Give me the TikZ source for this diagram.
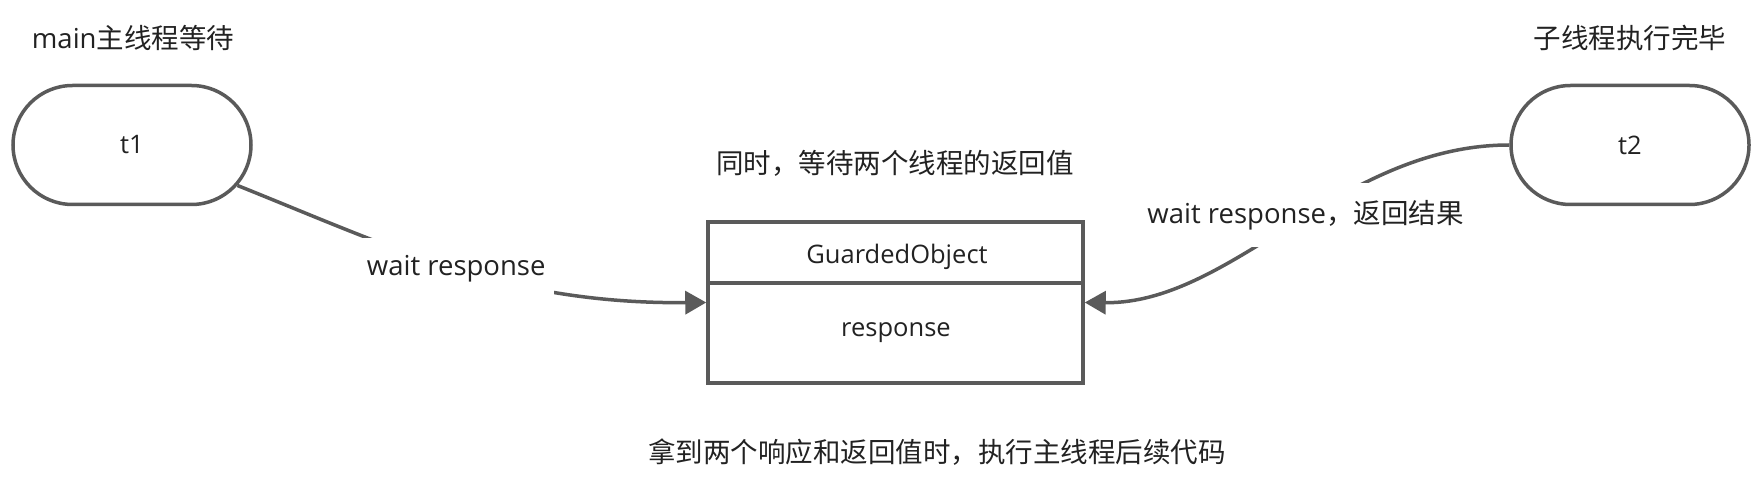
\documentclass[tikz,border=0pt]{standalone}
\usepackage{fontspec}
\setmainfont{Open Sans}
\newfontfamily\cjk{Noto Sans CJK SC}
\usetikzlibrary{arrows.meta,shapes.misc,calc}
\definecolor{edgec}{HTML}{5A5A5A}
\definecolor{txtc}{HTML}{222222}
\tikzset{
  thread/.style={draw=edgec, line width=3.5pt, rounded rectangle, minimum width=238pt, minimum height=119pt, inner sep=0pt, text=txtc, font=\fontsize{25.5}{30}\selectfont},
  obox/.style={draw=edgec, line width=3.5pt, rectangle, minimum width=375pt, minimum height=161pt, inner sep=0pt},
  lbl/.style={text=txtc, inner sep=0pt, font=\fontsize{27.5}{33}\selectfont},
  boxtxt/.style={text=txtc, inner sep=0pt, font=\fontsize{25.5}{30}\selectfont},
  conn/.style={draw=edgec, line width=3.5pt, -{Triangle[length=21pt,width=23pt]}},
  elbl/.style={lbl, fill=white, inner xsep=8pt, inner ysep=17pt}
}
\begin{document}
\begin{tikzpicture}[x=1pt,y=-1pt]
\useasboundingbox[fill=white] (0,0) rectangle (1762,486);

\node[thread] (t1) at (132,145) {t1};
\node[thread] (t2) at (1630,145) {t2};
\node[lbl] (cap1) at (133,38) {main{\cjk 主线程等待}};
\node[lbl] (cap2) at (1630,38) {\cjk 子线程执行完毕};

\node[obox] (go) at (895.5,302.5) {};
\draw[draw=edgec, line width=3.5pt] ($(go.north west)+(1.75,63)$) -- ($(go.north east)+(-1.75,63)$);
\node[boxtxt] (gname) at (897,257) {GuardedObject};
\node[boxtxt] (gfield) at (896,333) {response};

\node[lbl] (top) at (895,163) {\cjk 同时，等待两个线程的返回值};
\node[lbl] (bottom) at (937,452) {\cjk 拿到两个响应和返回值时，执行主线程后续代码};

\draw[conn] (t1.-21) .. controls (396,249) and (506,304) .. (go.west)
  node[elbl, pos=0.5] {wait response};
\draw[conn] (t2.west) .. controls (1341,145) and (1233,304) .. (go.east)
  node[elbl, pos=0.46] {wait response{\cjk ，返回结果}};
\end{tikzpicture}
\end{document}
